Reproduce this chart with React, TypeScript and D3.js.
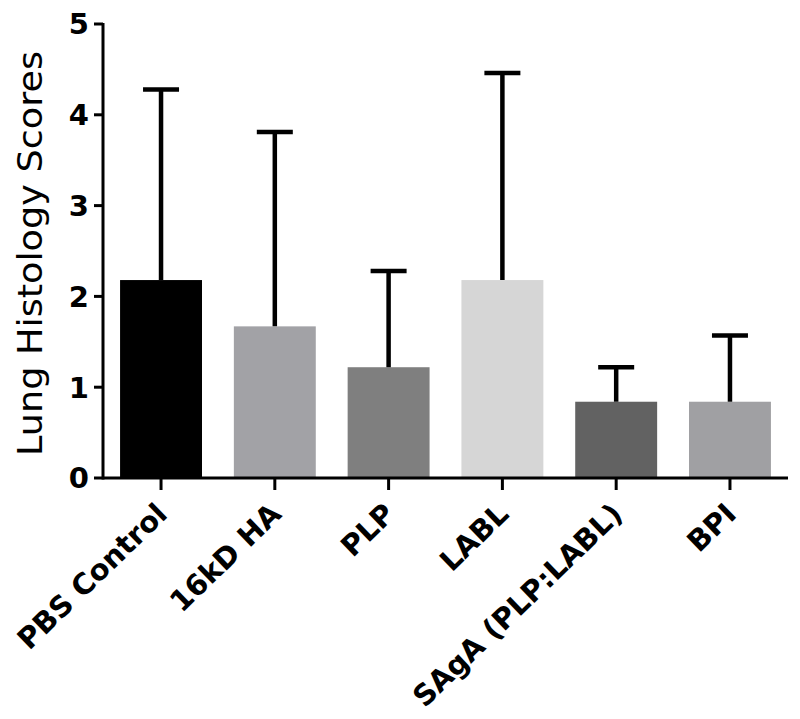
import React from "react";
import * as d3 from "d3";

const groups = ["PBS Control", "16kD HA", "PLP", "LABL", "SAgA (PLP:LABL)", "BPI"];
const means = [2.18, 1.67, 1.22, 2.18, 0.84, 0.84];
const upper = [4.28, 3.81, 2.28, 4.46, 1.22, 1.57];
const colors = ["#000000", "#a2a2a6", "#7f7f7f", "#d6d6d6", "#626262", "#a0a0a3"];
const yTicks = [0, 1, 2, 3, 4, 5];

const App = () => {
  const left = 103;
  const right = 788;
  const top = 24;
  const bottom = 478;

  const x = d3
    .scaleBand()
    .domain(groups)
    .range([left, right])
    .paddingInner(0.28)
    .paddingOuter(0.15);
  const y = d3.scaleLinear().domain([0, 5]).range([bottom, top]);

  return (
    <svg width={800} height={719} style={{ position: "absolute", left: 0, top: 0 }}>
      <rect width={800} height={719} fill="#fff" />
      {groups.map((g, i) => (
        <rect
          key={g}
          x={x(g)}
          y={y(means[i])}
          width={x.bandwidth()}
          height={bottom - y(means[i])}
          fill={colors[i]}
        />
      ))}
      {/* error bars, upper only */}
      {groups.map((g, i) => {
        const cx = x(g) + x.bandwidth() / 2;
        return (
          <g key={g} stroke="#000" strokeWidth={4.5}>
            <line x1={cx} x2={cx} y1={y(means[i])} y2={y(upper[i])} />
            <line x1={cx - 18} x2={cx + 18} y1={y(upper[i])} y2={y(upper[i])} />
          </g>
        );
      })}
      {/* y axis */}
      <line x1={left} x2={left} y1={top - 1} y2={bottom + 1.5} stroke="#000" strokeWidth={3} />
      {yTicks.map((t) => (
        <g key={t}>
          <line x1={left - 9} x2={left} y1={y(t)} y2={y(t)} stroke="#000" strokeWidth={3} />
          <text
            x={left - 14}
            y={y(t)}
            dy="0.36em"
            textAnchor="end"
            fontFamily="DejaVu Sans"
            fontWeight="bold"
            fontSize={29}
          >
            {t}
          </text>
        </g>
      ))}
      {/* x axis */}
      <line x1={left} x2={right} y1={bottom} y2={bottom} stroke="#000" strokeWidth={3} />
      {groups.map((g) => {
        const cx = x(g) + x.bandwidth() / 2;
        return (
          <g key={g}>
            <line x1={cx} x2={cx} y1={bottom} y2={bottom + 12} stroke="#000" strokeWidth={3} />
            <text
              transform={`translate(${cx + 8},${bottom + 38}) rotate(-44)`}
              textAnchor="end"
              fontFamily="DejaVu Sans"
              fontWeight="bold"
              fontSize={29}
            >
              {g}
            </text>
          </g>
        );
      })}
      <text
        transform={`translate(42,${(50 + 457) / 2}) rotate(-90)`}
        textAnchor="middle"
        fontFamily="DejaVu Sans"
        fontSize={33}
        textLength={405}
        lengthAdjust="spacingAndGlyphs"
      >
        Lung Histology Scores
      </text>
    </svg>
  );
};

export default App;
